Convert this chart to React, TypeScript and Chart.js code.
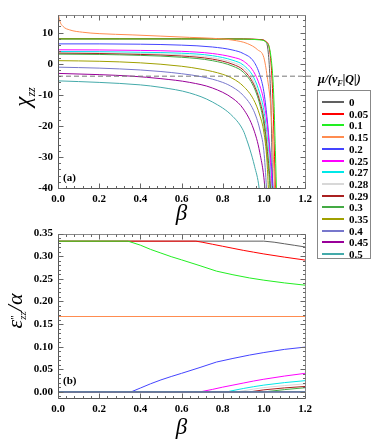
import React, { useEffect, useRef } from 'react';
import { Chart, registerables } from 'chart.js';
Chart.register(...registerables);

type P = [number, number];

const MU_LABELS = ['0', '0.05', '0.1', '0.15', '0.2', '0.25', '0.27', '0.28', '0.29', '0.3', '0.35', '0.4', '0.45', '0.5'];
const COLORS = ['#606060', '#ff0000', '#22ee22', '#ff8c50', '#4444ff', '#ff00ff', '#00e8e8', '#d8d8d8', '#aa2020', '#44aa44', '#a0a000', '#7777cc', '#990099', '#44aaaa'];

const BETA_TICKS = [0, 0.2, 0.4, 0.6, 0.8, 1.0, 1.2];
const CHI_TICKS = [-40, -30, -20, -10, 0, 10];
const EPS_TICKS = [0, 0.05, 0.1, 0.15, 0.2, 0.25, 0.3, 0.35];
const CHI_DASHED_LEVEL = -4;

// panel (a): chi_zz vs beta
const CHI_MU_0: P[] = [[0, 8.0], [0.3, 8.0], [0.6, 8.0], [0.9, 7.95], [0.98, 7.8], [1.005, 7.3], [1.02, 4.5], [1.03, -5], [1.037, -20], [1.043, -45]];
const CHI_MU_005: P[] = [[0, 8.05], [0.3, 8.05], [0.6, 8.05], [0.9, 8.0], [0.98, 7.8], [1.01, 7.2], [1.03, 3.5], [1.042, -8], [1.05, -25], [1.058, -45]];
const CHI_MU_01: P[] = [[0, 8.0], [0.3, 8.0], [0.6, 8.0], [0.9, 7.95], [0.98, 7.7], [1.01, 7.0], [1.035, 2], [1.048, -10], [1.056, -28], [1.063, -45]];
const CHI_MU_015: P[] = [[0, 17], [0.002, 16], [0.008, 13.9], [0.025, 12.0], [0.057, 10.9], [0.12, 10.15], [0.2, 9.7], [0.36, 9.3], [0.5, 8.9], [0.64, 8.5], [0.75, 8.2], [0.85, 7.6], [0.92, 6.5], [0.97, 4.5], [1.0, 2], [1.016, -4], [1.035, -15], [1.045, -28], [1.052, -40], [1.056, -48]];
const CHI_MU_02: P[] = [[0, 6.4], [0.2, 6.4], [0.4, 6.3], [0.6, 6.0], [0.75, 5.4], [0.85, 4.4], [0.9, 3.3], [0.95, 0.8], [0.98, -3.5], [1.0, -9], [1.015, -17], [1.03, -28], [1.045, -40], [1.05, -48]];
const CHI_MU_025: P[] = [[0, 4.5], [0.2, 4.45], [0.4, 4.3], [0.6, 4.0], [0.75, 3.3], [0.85, 2.1], [0.9, 0.9], [0.95, -2.5], [0.98, -7], [1.0, -12], [1.02, -22], [1.04, -40], [1.045, -48]];
const CHI_MU_027: P[] = [[0, 3.95], [0.2, 3.9], [0.4, 3.7], [0.6, 3.4], [0.75, 2.6], [0.85, 1.1], [0.9, -0.4], [0.95, -4.3], [0.98, -9.5], [1.0, -15], [1.02, -26], [1.036, -40], [1.042, -48]];
const CHI_MU_028: P[] = [[0, 3.6], [0.2, 3.5], [0.4, 3.3], [0.6, 2.9], [0.75, 2.0], [0.85, 0.4], [0.9, -1.2], [0.95, -5.5], [0.98, -11], [1.0, -17], [1.02, -28], [1.034, -40], [1.04, -48]];
const CHI_MU_029: P[] = [[0, 3.4], [0.2, 3.3], [0.4, 3.0], [0.6, 2.5], [0.75, 1.5], [0.85, -0.2], [0.9, -2.0], [0.95, -6.5], [0.98, -12], [1.0, -18], [1.02, -30], [1.032, -40], [1.038, -48]];
const CHI_MU_03: P[] = [[0, 3.1], [0.2, 3.0], [0.4, 2.7], [0.6, 2.1], [0.75, 1.0], [0.85, -0.8], [0.9, -2.7], [0.95, -7.3], [0.98, -13], [1.0, -19.5], [1.02, -32], [1.03, -40], [1.036, -48]];
const CHI_MU_035: P[] = [[0, 1.0], [0.2, 0.8], [0.4, 0.3], [0.6, -0.8], [0.7, -1.8], [0.8, -3.4], [0.85, -4.8], [0.9, -7.2], [0.95, -11.5], [0.98, -16.5], [1.0, -22], [1.015, -31], [1.022, -40], [1.028, -48]];
const CHI_MU_04: P[] = [[0, -1.1], [0.2, -1.4], [0.4, -2.0], [0.5, -2.5], [0.6, -3.2], [0.7, -4.2], [0.8, -6.0], [0.85, -7.6], [0.9, -10.2], [0.95, -15], [0.98, -21], [1.0, -28], [1.013, -40], [1.02, -48]];
const CHI_MU_045: P[] = [[0, -3.1], [0.2, -3.5], [0.36, -4.0], [0.5, -4.8], [0.64, -6.0], [0.75, -7.8], [0.85, -11.2], [0.9, -14.5], [0.95, -21], [0.98, -28.5], [1.005, -40], [1.012, -48]];
const CHI_MU_05: P[] = [[0, -5.5], [0.2, -6.0], [0.4, -6.8], [0.5, -7.6], [0.64, -9.4], [0.75, -12.3], [0.85, -17.0], [0.9, -21.5], [0.916, -24.3], [0.932, -27.5], [0.955, -33], [0.977, -40], [0.985, -46]];

// panel (b): eps''_zz / alpha vs beta
const EPS_MU_0: P[] = [[0, 0.3333], [1.0, 0.3333], [1.05, 0.331], [1.1, 0.3275], [1.15, 0.324], [1.2, 0.3205]];
const EPS_MU_005: P[] = [[0, 0.3333], [0.67, 0.3333], [0.7, 0.331], [0.75, 0.3265], [0.8, 0.322], [0.85, 0.3175], [0.9, 0.313], [0.95, 0.309], [1.0, 0.305], [1.1, 0.298], [1.2, 0.2915]];
const EPS_MU_01: P[] = [[0, 0.3333], [0.34, 0.3333], [0.4, 0.3245], [0.45, 0.315], [0.5, 0.307], [0.55, 0.299], [0.6, 0.292], [0.69, 0.279], [0.77, 0.267], [0.85, 0.259], [0.93, 0.252], [1.0, 0.247], [1.1, 0.241], [1.2, 0.236]];
const EPS_MU_015: P[] = [[0, 0.1667], [1.2, 0.1667]];
const EPS_MU_02: P[] = [[0, 0], [0.355, 0], [0.4, 0.0085], [0.45, 0.018], [0.5, 0.0265], [0.55, 0.034], [0.6, 0.041], [0.69, 0.054], [0.77, 0.066], [0.85, 0.074], [0.93, 0.0814], [1.0, 0.087], [1.1, 0.094], [1.2, 0.099]];
const EPS_MU_025: P[] = [[0, 0], [0.69, 0], [0.75, 0.0055], [0.8, 0.0105], [0.85, 0.015], [0.9, 0.0195], [0.95, 0.024], [1.0, 0.028], [1.1, 0.035], [1.2, 0.041]];
const EPS_MU_027: P[] = [[0, 0], [0.82, 0], [0.85, 0.003], [0.9, 0.0075], [0.95, 0.0115], [1.0, 0.015], [1.1, 0.0205], [1.2, 0.0248]];
const EPS_MU_028: P[] = [[0, 0], [0.87, 0], [0.95, 0.0062], [1.0, 0.0095], [1.1, 0.014], [1.2, 0.0177]];
const EPS_MU_029: P[] = [[0, 0], [0.93, 0], [1.0, 0.0045], [1.1, 0.0088], [1.2, 0.012]];
const EPS_MU_03: P[] = [[0, 0], [1.0, 0], [1.1, 0.005], [1.2, 0.0092]];
const EPS_MU_035: P[] = [[0, 0], [1.2, 0]];
const EPS_MU_04: P[] = [[0, 0], [1.2, 0]];
const EPS_MU_045: P[] = [[0, 0], [1.2, 0]];
const EPS_MU_05: P[] = [[0, 0], [1.2, 0]];

const CHI_SERIES = [CHI_MU_0, CHI_MU_005, CHI_MU_01, CHI_MU_015, CHI_MU_02, CHI_MU_025, CHI_MU_027, CHI_MU_028, CHI_MU_029, CHI_MU_03, CHI_MU_035, CHI_MU_04, CHI_MU_045, CHI_MU_05];
const EPS_SERIES = [EPS_MU_0, EPS_MU_005, EPS_MU_01, EPS_MU_015, EPS_MU_02, EPS_MU_025, EPS_MU_027, EPS_MU_028, EPS_MU_029, EPS_MU_03, EPS_MU_035, EPS_MU_04, EPS_MU_045, EPS_MU_05];

const SERIF = '"Liberation Serif", "Times New Roman", serif';

const framePlugin = {
  id: 'frame',
  afterDatasetsDraw(chart: any, _args: any, opts: any) {
    const { ctx, chartArea: a, scales } = chart;
    const xs = scales.x;
    const ys = scales.y;
    const L = Math.round(a.left) + 0.5;
    const R = Math.round(a.right) + 0.5;
    const T = Math.round(a.top) + 0.5;
    const B = Math.round(a.bottom) + 0.5;
    ctx.save();
    ctx.lineWidth = 1;
    ctx.strokeStyle = '#8a8a8a';
    ctx.beginPath();
    ctx.moveTo(L, T); ctx.lineTo(R, T); ctx.lineTo(R, B);
    ctx.stroke();
    ctx.strokeStyle = '#555';
    ctx.beginPath();
    ctx.moveTo(L, T); ctx.lineTo(L, B); ctx.lineTo(R, B);
    ctx.stroke();
    ctx.strokeStyle = '#666';
    const near = (v: number, arr: number[]) => arr.some((t) => Math.abs(t - v) < 1e-6);
    // x ticks
    const xMajor: number[] = opts.xMajor;
    for (let k = 0; k <= Math.round((xs.max - xs.min) / opts.xMinor); k++) {
      const v = xs.min + k * opts.xMinor;
      const len = near(v, xMajor) ? 5 : 2.5;
      const px = Math.round(xs.getPixelForValue(v)) + 0.5;
      ctx.beginPath();
      ctx.moveTo(px, B); ctx.lineTo(px, B - len);
      ctx.moveTo(px, T); ctx.lineTo(px, T + len);
      ctx.stroke();
    }
    const yMajor: number[] = opts.yMajor;
    const y0 = opts.yMinorStart;
    for (let k = 0; ; k++) {
      const v = y0 + k * opts.yMinor;
      if (v > ys.max + 1e-9) break;
      if (v < ys.min - 1e-9) continue;
      const len = near(v, yMajor) ? 5 : 2.5;
      const py = Math.round(ys.getPixelForValue(v)) + 0.5;
      ctx.beginPath();
      ctx.moveTo(L, py); ctx.lineTo(L + len, py);
      ctx.moveTo(R, py); ctx.lineTo(R - len, py);
      ctx.stroke();
    }
    ctx.fillStyle = '#000';
    ctx.font = `bold 11px ${SERIF}`;
    ctx.textBaseline = 'middle';
    ctx.textAlign = 'left';
    ctx.fillText(opts.label, a.left + 5, a.bottom - opts.labelOffset);
    ctx.restore();
  },
};

function makeChart(canvas: HTMLCanvasElement, cfg: any) {
  const datasets: any[] = cfg.series.map((s: P[], i: number) => ({
    label: MU_LABELS[i],
    data: s.map(([x, y]) => ({ x, y })),
    borderColor: COLORS[i],
    backgroundColor: COLORS[i],
    borderWidth: 1,
    pointRadius: 0,
    fill: false,
    tension: cfg.smooth ? 0.4 : 0,
    cubicInterpolationMode: cfg.smooth ? 'monotone' : 'default',
    order: 100 - i,
  }));
  if (cfg.dashed !== undefined) {
    datasets.push({
      label: 'ref',
      data: [{ x: 0, y: cfg.dashed }, { x: 1.24, y: cfg.dashed }],
      borderColor: '#777',
      borderWidth: 1,
      borderDash: [5, 3],
      pointRadius: 0,
      fill: false,
      order: 0,
      clip: { left: 0, top: 0, right: 12, bottom: 0 },
    });
  }
  return new Chart(canvas, {
    type: 'line',
    data: { datasets },
    options: {
      responsive: false,
      animation: false,
      events: [],
      layout: { padding: { left: 0, right: 69, top: cfg.padTop, bottom: 0 } },
      plugins: {
        legend: { display: false },
        tooltip: { enabled: false },
        frame: cfg.frame,
      } as any,
      scales: {
        x: {
          type: 'linear',
          min: 0,
          max: 1.2,
          afterBuildTicks: (s: any) => { s.ticks = BETA_TICKS.map((v) => ({ value: v })); },
          ticks: {
            callback: (v: any) => Number(v).toFixed(1),
            font: { family: SERIF, weight: 'bold', size: 11 },
            color: '#000',
            padding: 5,
            maxRotation: 0,
            autoSkip: false,
          },
          grid: { display: false, drawTicks: false },
          border: { display: false },
          title: {
            display: true,
            text: 'β',
            font: { family: SERIF, style: 'italic', size: 23, lineHeight: 1 },
            color: '#000',
            padding: { top: 0, bottom: cfg.titlePad },
          },
          afterFit: (s: any) => { s.height = cfg.xAxisH; },
        },
        y: {
          type: 'linear',
          min: cfg.yMin,
          max: cfg.yMax,
          afterBuildTicks: (s: any) => { s.ticks = cfg.yTicks.map((v: number) => ({ value: v })); },
          ticks: {
            callback: cfg.yFmt,
            font: { family: SERIF, weight: 'bold', size: 11 },
            color: '#000',
            padding: 5,
            autoSkip: false,
          },
          grid: { display: false, drawTicks: false },
          border: { display: false },
          afterFit: (s: any) => { s.width = 58; },
        },
      },
    } as any,
    plugins: [framePlugin],
  });
}

export default function App() {
  const refA = useRef<HTMLCanvasElement>(null);
  const refB = useRef<HTMLCanvasElement>(null);

  useEffect(() => {
    const a = makeChart(refA.current!, {
      series: CHI_SERIES,
      smooth: true,
      dashed: CHI_DASHED_LEVEL,
      padTop: 15,
      xAxisH: 38,
      titlePad: 1,
      yMin: -40,
      yMax: 15.7,
      yTicks: CHI_TICKS,
      yFmt: (v: any) => String(v),
      frame: { xMajor: BETA_TICKS, xMinor: 0.04, yMajor: CHI_TICKS, yMinor: 2, yMinorStart: -40, label: '(a)', labelOffset: 10 },
    });
    const b = makeChart(refB.current!, {
      series: EPS_SERIES,
      smooth: false,
      padTop: 5,
      xAxisH: 41,
      titlePad: 0,
      yMin: -0.0135,
      yMax: 0.35,
      yTicks: EPS_TICKS,
      yFmt: (v: any) => Number(v).toFixed(2),
      frame: { xMajor: BETA_TICKS, xMinor: 0.04, yMajor: EPS_TICKS, yMinor: 0.01, yMinorStart: -0.01, label: '(b)', labelOffset: 17 },
    });
    return () => { a.destroy(); b.destroy(); };
  }, []);

  const rot: React.CSSProperties = {
    position: 'absolute',
    transform: 'translate(-50%, -50%) rotate(-90deg)',
    whiteSpace: 'nowrap',
    fontFamily: SERIF,
    color: '#000',
    lineHeight: 1,
  };

  return (
    <div style={{ position: 'absolute', left: 0, top: 0, width: 374, height: 439, background: '#fff', overflow: 'hidden' }}>
      <canvas ref={refA} width={374} height={226} style={{ position: 'absolute', left: 0, top: 0, width: 374, height: 226 }} />
      <canvas ref={refB} width={374} height={217} style={{ position: 'absolute', left: 0, top: 222, width: 374, height: 217 }} />
      <div style={{ ...rot, left: 22, top: 97 }}>
        <span style={{ fontStyle: 'italic', fontSize: 23 }}>χ</span>
        <span style={{ fontStyle: 'italic', fontSize: 12, position: 'relative', top: 5 }}>zz</span>
      </div>
      <div style={{ ...rot, left: 16, top: 311 }}>
        <span style={{ fontStyle: 'italic', fontSize: 22 }}>ε</span>
        <span style={{ display: 'inline-block', verticalAlign: 'middle', fontSize: 11, lineHeight: 0.8, textAlign: 'left' }}>
          <span style={{ display: 'block' }}>"</span>
          <span style={{ display: 'block', fontStyle: 'italic' }}>zz</span>
        </span>
        <span style={{ fontStyle: 'italic', fontSize: 22 }}>/α</span>
      </div>
      <div style={{ position: 'absolute', left: 318, top: 71, fontFamily: SERIF, fontWeight: 'bold', fontStyle: 'italic', fontSize: 12, whiteSpace: 'nowrap', lineHeight: '16px' }}>
        μ/(<span>v</span><span style={{ fontSize: 8, position: 'relative', top: 3 }}>F</span>|Q|)
      </div>
      <div style={{ position: 'absolute', left: 317, top: 90, width: 54, height: 169, border: '1px solid #888', boxSizing: 'border-box', background: '#fff' }}>
        {MU_LABELS.map((lab, i) => (
          <div key={lab} style={{ position: 'absolute', left: 0, top: 5 + i * 11.7, height: 12, width: 54 }}>
            <div style={{ position: 'absolute', left: 4, top: 5, width: 22, height: 2, background: COLORS[i] }} />
            <div style={{ position: 'absolute', left: 31, top: 0, fontFamily: SERIF, fontWeight: 'bold', fontSize: 11, lineHeight: '12px', color: '#000' }}>{lab}</div>
          </div>
        ))}
      </div>
    </div>
  );
}
